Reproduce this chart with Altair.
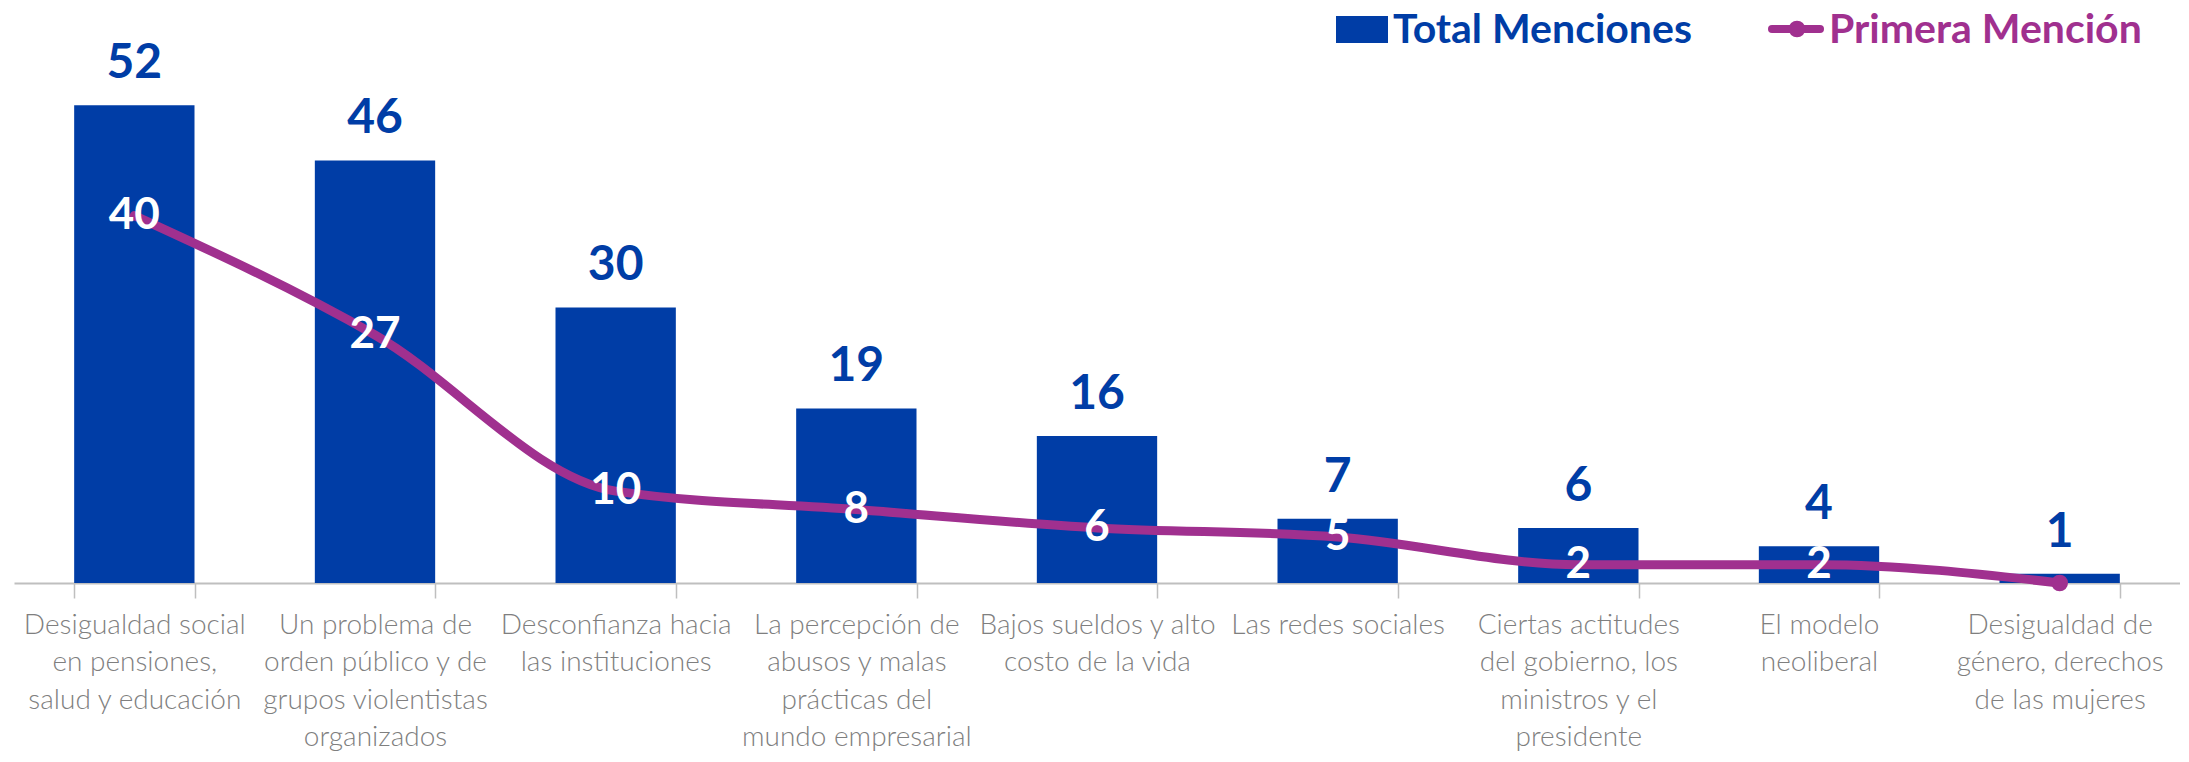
import altair as alt
import pandas as pd

categories = [
    "Desigualdad social|en pensiones,|salud y educación",
    "Un problema de|orden público y de|grupos violentistas|organizados",
    "Desconfianza hacia|las instituciones",
    "La percepción de|abusos y malas|prácticas del|mundo empresarial",
    "Bajos sueldos y alto|costo de la vida",
    "Las redes sociales",
    "Ciertas actitudes|del gobierno, los|ministros y el|presidente",
    "El modelo|neoliberal",
    "Desigualdad de|género, derechos|de las mujeres",
]
total_menciones = [52, 46, 30, 19, 16, 7, 6, 4, 1]
primera_mencion = [40, 27, 10, 8, 6, 5, 2, 2, 0]
legend_labels = ["Total Menciones", "Primera Mención"]

BLUE = "#003DA6"
PURPLE = "#A0308F"
GRAY = "#7F7F7F"
AXIS_GRAY = "#BFBFBF"

W, H = 2166, 575

df = pd.DataFrame({"cat": categories, "total": total_menciones, "primera": primera_mencion})

yscale = alt.Scale(domain=[0, 62.6], nice=False, zero=True)
x = alt.X(
    "cat:N",
    sort=categories,
    scale=alt.Scale(paddingInner=0.5, paddingOuter=0.25),
    axis=alt.Axis(
        title=None,
        labelAngle=0,
        labelExpr="split(datum.label, '|')",
        labelFont="Lato",
        labelFontWeight=300,
        labelFontSize=28,
        labelColor=GRAY,
        labelLineHeight=37.5,
        labelPadding=13,
        labelBaseline="top",
        labelAlign="center",
        labelLimit=400,
        tickBand="extent",
        tickSize=15,
        tickColor=AXIS_GRAY,
        tickWidth=1.5,
        domainColor=AXIS_GRAY,
        domainWidth=2,
        grid=False,
    ),
)

base = alt.Chart(df)

bars = base.mark_bar(color=BLUE).encode(
    x=x, y=alt.Y("total:Q", scale=yscale, axis=None)
)
bar_labels = base.mark_text(
    baseline="bottom", dy=-17, font="Lato", fontWeight="bold", fontSize=48, color=BLUE
).encode(x=x, y=alt.Y("total:Q", scale=yscale, axis=None), text="total:Q")

line = base.mark_line(
    color=PURPLE, strokeWidth=9, interpolate="monotone", strokeCap="round"
).encode(x=x, y=alt.Y("primera:Q", scale=yscale, axis=None))

end_point = base.transform_filter(alt.datum.primera == 0).mark_circle(
    color=PURPLE, size=280, opacity=1
).encode(x=x, y=alt.Y("primera:Q", scale=yscale, axis=None))

line_labels = base.transform_filter(alt.datum.primera > 0).mark_text(
    baseline="middle", font="Lato", fontWeight="bold", fontSize=44, color="white"
).encode(x=x, y=alt.Y("primera:Q", scale=yscale, axis=None), text="primera:Q")

leg_df = pd.DataFrame({"label": legend_labels})
leg1 = alt.Chart(leg_df).transform_filter(alt.datum.label == legend_labels[0])
leg2 = alt.Chart(leg_df).transform_filter(alt.datum.label == legend_labels[1])

leg_square = leg1.mark_rect(color=BLUE).encode(
    x=alt.value(1322), x2=alt.value(1374), y=alt.value(8), y2=alt.value(35)
)
leg_text1 = leg1.mark_text(
    align="left", baseline="middle", font="Lato", fontWeight="bold", fontSize=41, color=BLUE
).encode(x=alt.value(1379), y=alt.value(23), text="label:N")
leg_line = leg2.mark_rule(color=PURPLE, strokeWidth=8, strokeCap="round").encode(
    x=alt.value(1758), x2=alt.value(1806), y=alt.value(21)
)
leg_dot = leg2.mark_circle(color=PURPLE, size=280, opacity=1).encode(
    x=alt.value(1783), y=alt.value(21)
)
leg_text2 = leg2.mark_text(
    align="left", baseline="middle", font="Lato", fontWeight="bold", fontSize=41, color=PURPLE
).encode(x=alt.value(1815), y=alt.value(23), text="label:N")

chart = (
    alt.layer(
        bars, bar_labels, line, end_point, line_labels,
        leg_square, leg_text1, leg_line, leg_dot, leg_text2,
    )
    .properties(
        width=W,
        height=H,
        padding={"left": 6, "top": 0, "right": 0, "bottom": 0},
        background="white",
    )
    .configure_view(stroke=None)
)

chart.save("out.html", embed_options={"renderer": "svg", "actions": False})
